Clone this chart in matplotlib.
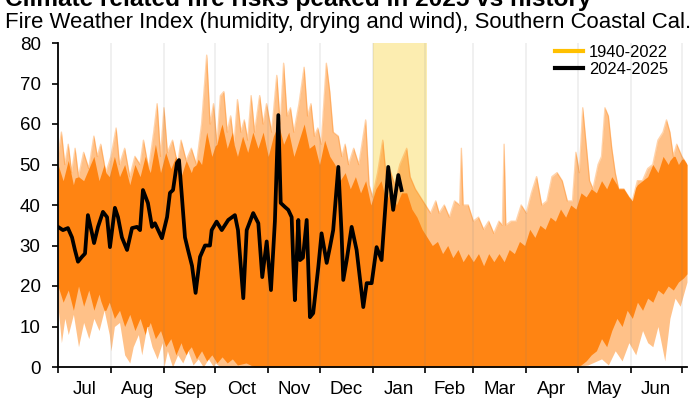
import matplotlib
matplotlib.use("Agg")
import matplotlib.pyplot as plt
from matplotlib.lines import Line2D
import numpy as np

plt.rcParams['font.family'] = ['Liberation Sans', 'DejaVu Sans']

# ---------------- data ----------------
title = "Climate related fire risks peaked in 2025 vs history"
subtitle = "Fire Weather Index (humidity, drying and wind), Southern Coastal Cal."
month_labels = ["Jul", "Aug", "Sep", "Oct", "Nov", "Dec", "Jan", "Feb", "Mar", "Apr", "May", "Jun"]
month_starts = [0, 31, 62, 92, 123, 153, 184, 215, 243, 274, 304, 335, 365]
highlight = (184, 216)
legend_labels = ["1940-2022", "2024-2025"]

# historical (1940-2022) spread: outer (faint) upper envelope
hist_top_days = [0, 2, 4, 6, 8, 10, 12, 15, 18, 21, 23, 25, 28, 31, 34, 36, 39, 42, 45, 48, 50, 53,
                 56, 58, 60, 62, 64, 67, 70, 72, 75, 78, 81, 84, 87, 89, 91, 93, 95, 97, 99, 101,
                 103, 105, 107, 109, 111, 113, 115, 118, 120, 122, 125, 128, 130, 132, 134, 136,
                 138, 141, 144, 146, 148, 150, 152, 154, 157, 159, 161, 164, 166, 168, 170, 173,
                 176, 180, 182, 184, 187, 190, 192, 194, 197, 200, 204, 206, 209, 212, 215, 218,
                 221, 223, 226, 229, 232, 235, 236, 237, 240, 243, 246, 249, 252, 255, 258, 260,
                 261, 262, 265, 268, 271, 274, 277, 280, 283, 286, 289, 292, 295, 298, 301, 303,
                 305, 307, 309, 311, 313, 316, 318, 320, 322, 324, 326, 328, 331, 334, 336, 339,
                 342, 345, 348, 351, 354, 356, 358, 360, 362, 365, 368]
hist_top_vals = [52, 58, 50, 55, 48, 54, 47, 53, 49, 57, 52, 55, 48, 52, 59, 50, 54, 47, 52, 50, 56, 49,
                 58, 65, 52, 64, 53, 56, 50, 56, 51, 54, 50, 60, 77, 60, 65, 55, 67, 68, 58, 62,
                 55, 66, 58, 61, 56, 67, 58, 67, 60, 65, 58, 72, 60, 75, 62, 64,
                 58, 65, 74, 62, 65, 57, 59, 55, 75, 68, 58, 57, 52, 55, 50, 54,
                 50, 61, 45, 42, 48, 56, 47, 49, 45, 50, 54, 47, 44, 42, 40, 38,
                 41, 38, 40, 37, 41, 40, 54, 40, 40, 36, 37, 34, 36, 33, 36, 35,
                 55, 35, 36, 36, 40, 38, 43, 47, 40, 41, 47, 48, 46, 41, 41, 53,
                 48, 64, 55, 46, 44, 50, 52, 64, 62, 54, 48, 44, 44, 42, 41, 46,
                 46, 49, 50, 56, 58, 61, 58, 52, 55, 52, 50]

# historical: dense (solid) core upper edge
core_top_days = [0, 3, 6, 9, 12, 15, 18, 21, 24, 27, 30, 33, 36, 39, 42, 45, 48, 51, 54, 57, 60,
                 63, 66, 69, 72, 75, 78, 81, 84, 87, 90, 93, 96, 99, 102, 105, 108, 111, 114, 117,
                 120, 123, 126, 129, 132, 135, 138, 141, 144, 147, 150, 153, 156, 159, 162, 165,
                 168, 171, 174, 177, 180, 183, 186, 189, 192, 195, 198, 201, 204, 207, 210, 213,
                 216, 219, 222, 225, 228, 231, 234, 237, 240, 243, 246, 249, 252, 255, 258, 261,
                 264, 267, 270, 273, 276, 279, 282, 285, 288, 291, 294, 297, 300, 303, 306, 309,
                 312, 315, 318, 321, 324, 327, 330, 333, 336, 339, 342, 345, 348, 351, 354, 357,
                 360, 363, 366, 368]
core_top_vals = [50, 46, 51, 45, 50, 46, 49, 52, 46, 50, 47, 52, 47, 50, 45, 50, 47, 52, 48, 55, 48,
                 53, 49, 52, 47, 51, 48, 52, 50, 58, 52, 56, 60, 54, 58, 52, 57, 53, 58, 54,
                 58, 52, 57, 60, 55, 58, 52, 56, 60, 54, 55, 50, 56, 52, 50, 46,
                 48, 44, 47, 43, 46, 40, 44, 46, 41, 44, 40, 43, 43, 39, 37, 34,
                 32, 30, 31, 28, 30, 27, 29, 26, 28, 26, 28, 25, 28, 26, 28, 26,
                 29, 28, 31, 30, 34, 32, 35, 34, 37, 36, 39, 37, 40, 39, 43, 42,
                 44, 43, 46, 44, 47, 45, 46, 44, 47, 45, 48, 47, 50, 48, 52, 50,
                 53, 50, 52, 50]

# historical: dense (solid) core lower edge
core_low_days = [0, 3, 6, 9, 12, 15, 18, 21, 24, 27, 30, 33, 36, 39, 42, 45, 48, 51, 54, 57, 60,
                 63, 66, 69, 72, 75, 78, 81, 84, 87, 90, 93, 96, 99, 102, 105, 110, 115,
                 300, 303, 306, 309, 312, 315, 318, 321, 324, 327, 330, 333, 336, 339, 342, 345,
                 348, 351, 354, 357, 360, 363, 366, 368]
core_low_vals = [20, 16, 19, 14, 20, 15, 19, 14, 18, 13, 16, 12, 14, 10, 13, 9, 12, 8, 11, 7, 9,
                 5, 7, 3, 6, 2, 5, 2, 4, 1.5, 3, 1, 2.5, 1, 2, 0.5, 1, 0,
                 0, 0, 0.5, 1.5, 3, 4, 7, 5, 9, 12, 10, 14, 12, 16, 14, 17,
                 16, 19, 18, 20, 19, 21, 22, 23]

# historical: outer (faint) lower envelope
hist_low_days = [0, 2, 4, 6, 9, 12, 15, 18, 21, 24, 27, 30, 31, 33, 36, 39, 42, 44, 47, 49, 52, 55,
                 58, 61, 62, 64, 67, 70, 73, 76, 79, 82, 85, 88, 91, 92, 95,
                 300, 310, 318, 322, 326, 330, 334, 338, 342, 345, 348, 351, 355, 358, 361, 364, 368]
hist_low_vals = [15, 6, 12, 8, 13, 5, 11, 7, 12, 9, 14, 8, 4, 10, 11, 3, 1, 5, 8, 3, 10, 5,
                 2, 6, 0, 4, 0, 3, 1, 4, 0.5, 2, 0, 2, 0, 1, 0,
                 0, 0.5, 2, 0.5, 4, 1.5, 6, 3, 9, 6, 5, 10, 1.5, 12, 17, 15, 21]

# 2024-2025 season
fwi_days = [0.0, 2.9, 5.8, 8.2, 9.9, 11.7, 14.0, 15.8, 17.5, 19.9, 21.1, 23.4, 26.3, 28.7, 30.4,
            33.3, 35.1, 37.4, 40.4, 43.3, 46.2, 48.0, 49.7, 52.6, 55.0, 56.7, 60.8, 63.8, 65.5,
            67.3, 69.6, 70.8, 72.5, 74.3, 76.0, 78.4, 80.5, 83.1, 86.0, 88.9, 89.9, 92.8, 95.8,
            99.6, 103.5, 105.3, 108.4, 110.4, 114.2, 117.2, 119.5, 122.1, 124.6, 126.9, 128.9,
            130.3, 132.8, 134.7, 136.7, 137.6, 138.6, 140.6, 141.6, 143.3, 145.5, 147.4, 149.3,
            152.3, 154.2, 157.2, 159.1, 161.0, 164.0, 165.9, 166.9, 168.9, 171.8, 174.7, 178.6,
            180.6, 183.5, 186.4, 189.3, 193.2, 196.1, 199.1, 201.0]
fwi_vals = [34.6, 33.8, 34.3, 32.0, 28.9, 26.0, 27.2, 28.0, 37.5, 33.0, 30.6, 34.6, 38.3, 37.0, 29.6,
            39.3, 37.0, 32.0, 28.9, 34.3, 34.6, 33.8, 43.7, 40.5, 34.6, 35.5, 31.8, 37.0, 43.0,
            43.7, 50.4, 51.1, 42.0, 32.0, 29.0, 25.0, 18.3, 27.2, 30.0, 30.0, 33.8, 35.9, 33.8,
            36.3, 37.5, 33.8, 17.0, 33.8, 38.0, 35.5, 22.2, 31.0, 19.0, 36.0, 62.2,
            40.5, 39.5, 38.8, 37.0, 26.4, 16.5, 36.3, 26.4, 27.0, 36.3, 12.3, 13.3,
            24.7, 33.0, 25.7, 29.6, 33.8, 49.4, 33.0, 21.5, 26.4, 34.6, 28.9, 14.8,
            20.7, 20.7, 29.6, 26.4, 49.4, 38.8, 47.4, 43.7]

# ---------------- figure ----------------
W, H = 699, 407
fig = plt.figure(figsize=(W / 100, H / 100), dpi=100)
ax = fig.add_axes([58 / W, 1 - 367 / H, (687 - 58) / W, (367 - 43) / H])

orange = "#FF8412"
ax.axvspan(highlight[0], highlight[1], color="#FCEDB0", zorder=0, lw=0)

grid = np.array(sorted(set(hist_top_days) | set(core_top_days) | set(core_low_days) | set(hist_low_days)), float)
top_o = np.interp(grid, hist_top_days, hist_top_vals)
low_o = np.interp(grid, hist_low_days, hist_low_vals)
top_c = np.minimum(np.interp(grid, core_top_days, core_top_vals), top_o)
low_c = np.maximum(np.interp(grid, core_low_days, core_low_vals), low_o)

ax.fill_between(grid, low_o, top_o, color=orange, alpha=0.5, lw=0, zorder=1)
ax.plot(hist_top_days, hist_top_vals, color=orange, alpha=0.35, lw=1.0, zorder=1.5)
ax.fill_between(grid, low_c, top_c, color=orange, alpha=1.0, lw=0, zorder=2)

for m in month_starts[1:]:
    ax.axvline(m, color="gray", alpha=0.13, lw=1.3, zorder=3)

ax.plot(fwi_days, fwi_vals, color="black", lw=2.7, zorder=5, solid_joinstyle="round")

ax.set_xlim(0, 368)
ax.set_ylim(0, 80)
ax.set_yticks(range(0, 81, 10))
ax.set_xticks(month_starts)
ax.set_xticklabels([])
mids = [(month_starts[i] + month_starts[i + 1]) / 2 for i in range(12)]
ax.set_xticks(mids, minor=True)
ax.set_xticklabels(month_labels, minor=True)
ax.tick_params(axis="x", which="major", length=4.5, width=1.2, direction="out")
ax.tick_params(axis="x", which="minor", length=0, pad=10, labelsize=13.5)
ax.tick_params(axis="y", length=4.5, width=1.2, direction="out", pad=8, labelsize=13.5)
for s in ["top", "right"]:
    ax.spines[s].set_visible(False)
for s in ["left", "bottom"]:
    ax.spines[s].set_linewidth(1.3)
    ax.spines[s].set_zorder(6)

fig.text(5 / W, 1 - 6 / H, title, fontsize=17.6, fontweight="bold", ha="left", va="baseline")
fig.text(5 / W, 1 - 28 / H, subtitle, fontsize=15.9, ha="left", va="baseline")

handles = [Line2D([0], [0], color="#FFC000", lw=3), Line2D([0], [0], color="black", lw=3)]
fig.legend(handles, legend_labels, loc="upper right", bbox_to_anchor=(668 / W, 1 - 45 / H),
           frameon=False, fontsize=11.9, handlelength=1.7, handletextpad=0.35,
           labelspacing=0.1, borderpad=0, borderaxespad=0)

fig.savefig("out.png", dpi=100)
